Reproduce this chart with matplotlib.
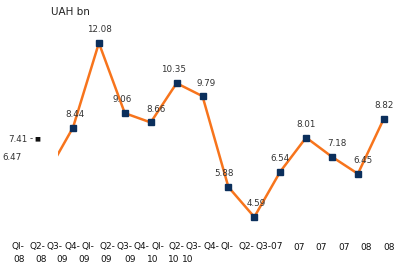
import matplotlib
matplotlib.use("Agg")
import matplotlib.pyplot as plt

W, H = 398, 269  # figure size in pixels

values = [7.41, 6.47, 8.44, 12.08, 9.06, 8.66, 10.35, 9.79, 5.88, 4.59, 6.54, 8.01, 7.18, 6.45, 8.82]
labels = ["7.41", "6.47", "8.44", "12.08", "9.06", "8.66", "10.35", "9.79",
          "5.88", "4.59", "6.54", "8.01", "7.18", "6.45", "8.82"]
quarters = ["Ql-", "Q2-", "Q3-", "Q4-", "Ql-", "Q2-", "Q3-", "Q4-",
            "Ql-", "Q2-", "Q3-", "Q4-", "Ql-", "Q2-", "Q3-07"]
years_row2 = ["08", "08", "09", "09", "09", "09", "10", "10", "10"]
years_row1 = ["07", "07", "07", "08", "08"]

# label offsets in pixels (dx) for each point
label_dx = [0, 0, 2, 1, -3, 5, -3, 4, -4, 2, 0, 0, 5, 5, 0]

LINE = "#f7741c"
MARK = "#0b2f5c"
TXT = "#333333"


def fx(px):
    return px / W


def fy(py):
    return 1 - py / H


fig = plt.figure(figsize=(W / 100, H / 100), dpi=100)
# the plot area is clipped on the left, like the original
ax = fig.add_axes([fx(58), 0, 1 - fx(58), 1])
ax.axis("off")

x = list(range(len(values)))
ax.plot(x, values, color=LINE, lw=1.8, zorder=2)
ax.plot(x[2:], values[2:], ls="none", marker="s", ms=4, color=MARK, zorder=3)

# map: index i -> pixel 21.2 + 25.9*i ; value v -> pixel 43 + (12.08-v)*23.23
ax.set_xlim((58 - 21.2) / 25.9, (398 - 21.2) / 25.9)
ax.set_ylim(12.08 - (269 - 43) / 23.23, 12.08 + 43 / 23.23)

for i in range(2, len(values)):
    ax.annotate(labels[i], (x[i], values[i]), xytext=(label_dx[i] * 0.72, 9.5),
                textcoords="offset points", ha="center", va="center",
                fontsize=6.3, color=TXT, annotation_clip=False)

# the first two labels sit off to the left of the clipped area
fig.text(fx(8), fy(139), labels[0], fontsize=6.3, color=TXT, va="center")
fig.text(fx(30), fy(139), "-", fontsize=6.3, color=TXT, va="center")
fig.text(fx(34), fy(139), "\u25a0", fontsize=4.5, color="#111111", va="center")
fig.text(fx(2), fy(158), labels[1], fontsize=6.3, color=TXT, va="center")

fig.text(fx(51), fy(12), "UAH bn", fontsize=7.5, color="#222222", va="center")

for i, q in enumerate(quarters):
    fig.text(fx(12 + 17.4 * i), fy(247), q, fontsize=6.5, color="#111111", va="center")
for i, yr in enumerate(years_row1):
    fig.text(fx(293 + 22.5 * i), fy(247), yr, fontsize=6.5, color="#111111", va="center")
row2_x = [13, 35, 56, 78, 100, 124, 147, 168, 182]
for px, yr in zip(row2_x, years_row2):
    fig.text(fx(px), fy(259), yr, fontsize=6.5, color="#111111", va="center")

fig.savefig("out.png", dpi=100)
